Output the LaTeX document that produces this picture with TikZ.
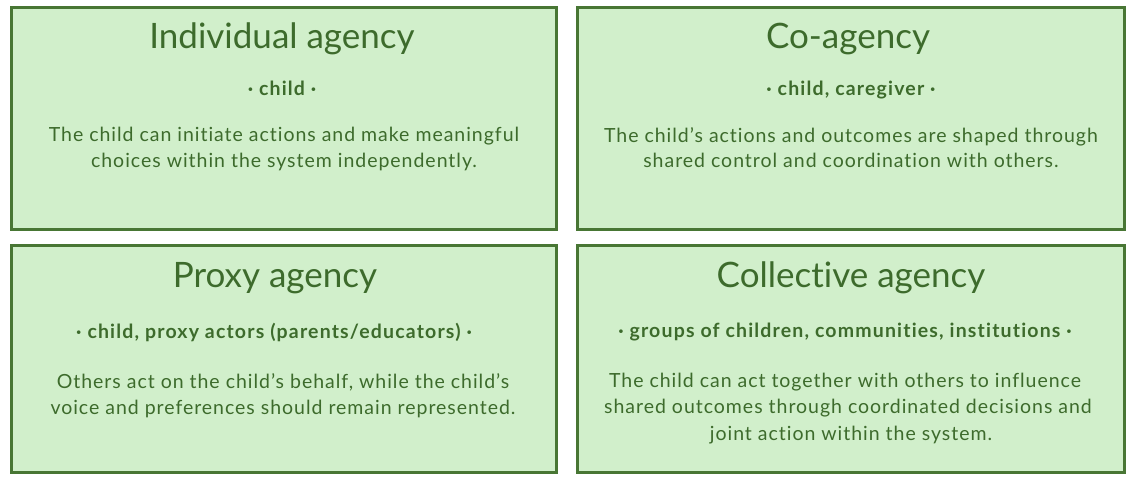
\documentclass[tikz,border=0pt]{standalone}
\usepackage{fontspec}
\setmainfont[Ligatures={NoCommon,NoRare}]{Lato}
\newfontfamily\bodyfont[LetterSpace=5,Ligatures={NoCommon,NoRare}]{Lato}
\newfontfamily\subfont[LetterSpace=6,Ligatures={NoCommon,NoRare}]{Lato}
\definecolor{boxfill}{HTML}{D1EFCB}
\definecolor{boxline}{HTML}{487634}
\definecolor{txt}{HTML}{3D6B2C}
\begin{document}
\begin{tikzpicture}[x=1pt,y=-1pt,
  agbox/.style={draw=boxline,fill=boxfill,line width=2.6pt},
  ttl/.style={anchor=base,text=txt,inner sep=0pt,font=\fontsize{35}{40}\selectfont},
  sub/.style={anchor=base,text=txt,inner sep=0pt,font=\subfont\fontsize{19.5}{22}\selectfont\bfseries},
  body/.style={anchor=base,text=txt,inner sep=0pt,font=\bodyfont\fontsize{19.5}{26.3}\selectfont}]
\useasboundingbox (0,0) rectangle (1133,482);
\draw[agbox] (11.3,7.3) rectangle (556.7,229.7);
\draw[agbox] (577.3,7.3) rectangle (1124.7,229.7);
\draw[agbox] (11.3,245.3) rectangle (556.7,472.7);
\draw[agbox] (577.3,245.3) rectangle (1124.7,472.7);
% box 1
\node[ttl] (t1) at (282,48) {Individual agency};
\node[sub] (s1) at (282,95) {· child ·};
\node[body] (b1a) at (284,141) {The child can initiate actions and make meaningful};
\node[body] (b1b) at (284,167) {choices within the system independently.};
% box 2
\node[ttl] (t2) at (848,48) {Co-agency};
\node[sub] (s2) at (851,95) {· child, caregiver ·};
\node[body] (b2a) at (851,142) {The child’s actions and outcomes are shaped through};
\node[body] (b2b) at (851,167) {shared control and coordination with others.};
% box 3
\node[ttl] (t3) at (275,287) {Proxy agency};
\node[sub] (s3) at (274,338) {· child, proxy actors (parents/educators) ·};
\node[body] (b3a) at (283,388) {Others act on the child’s behalf, while the child’s};
\node[body] (b3b) at (283,414) {voice and preferences should remain represented.};
% box 4
\node[ttl] (t4) at (851,287) {Collective agency};
\node[sub] (s4) at (845,337) {· groups of children, communities, institutions ·};
\node[body] (b4a) at (845,387) {The child can act together with others to influence};
\node[body] (b4b) at (848,413) {shared outcomes through coordinated decisions and};
\node[body] (b4c) at (851,440) {joint action within the system.};
\end{tikzpicture}
\end{document}
